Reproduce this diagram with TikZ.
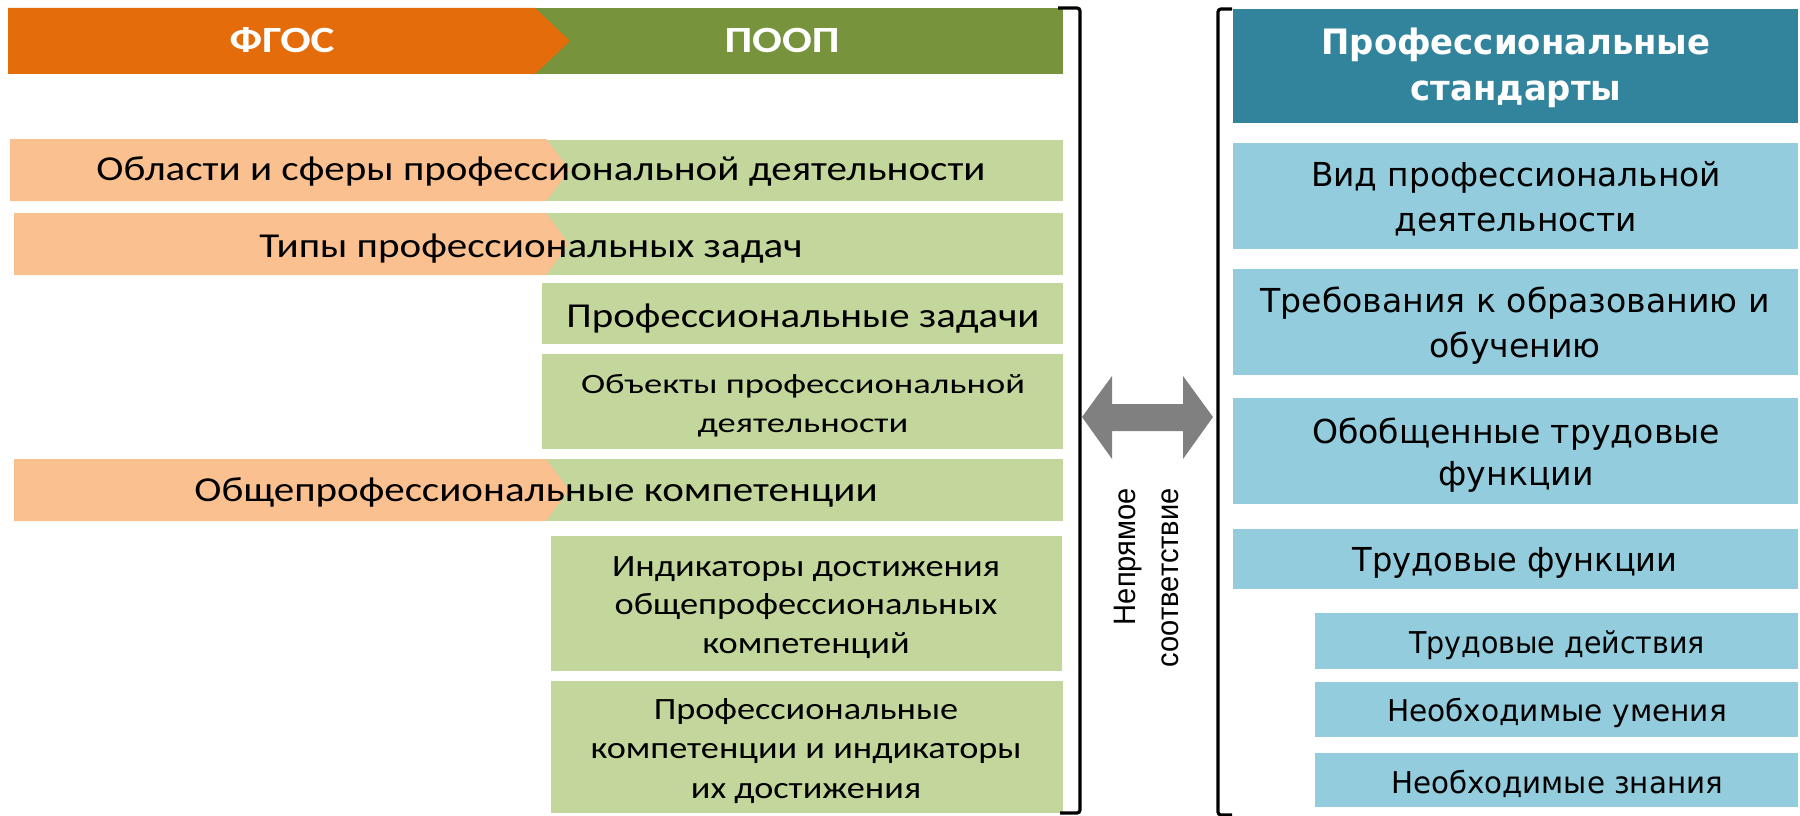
\documentclass[tikz,border=0pt]{standalone}
\usepackage{fontspec}
\setmainfont{Carlito}
\newfontfamily\dvs{DejaVu Sans}
\newfontfamily\lsans{Liberation Sans}
\usepackage{graphicx}
\usetikzlibrary{fit}
\definecolor{hdrorange}{HTML}{E46C0A}
\definecolor{hdrgreen}{HTML}{77933C}
\definecolor{lorange}{HTML}{FAC090}
\definecolor{lgreen}{HTML}{C3D69B}
\definecolor{hdrteal}{HTML}{31849B}
\definecolor{lblue}{HTML}{93CDDD}
\definecolor{arrowgray}{HTML}{808080}
\newcommand\fitw[4]{\resizebox{#1pt}{\height}{#2\begin{tabular}[t]{@{}#3@{}}#4\end{tabular}}}
\begin{document}
\begin{tikzpicture}[x=1pt,y=-1pt,
  box/.style={inner sep=0pt, outer sep=0pt, draw=none},
  gbox/.style={box, fill=lgreen},
  bbox/.style={box, fill=lblue},
  lbl/.style={inner sep=0pt, anchor=base},
  brk/.style={line width=3.2pt, rounded corners=3pt}]
\fill[white] (0,0) rectangle (1800,816);
\useasboundingbox (0,0) rectangle (1800,816);

% ---- left headers
\node[box, fill=hdrgreen, fit={(535,8) (1063,74)}] (pooph) {};
\fill[hdrorange] (8,8) -- (535,8) -- (570,41) -- (535,74) -- (8,74) -- cycle;
\node[lbl, text=white] (fgos) at (282,53) {\fitw{105}{\fontsize{37}{44}\selectfont\bfseries}{c}{ФГОС}};
\node[lbl, text=white] (poop) at (782,53) {\fitw{115}{\fontsize{37}{44}\selectfont\bfseries}{c}{ПООП}};

% ---- left rows
\node[gbox, fit={(539,140) (1063,201)}] (r1g) {};
\fill[lorange] (10,139) -- (546,139) -- (570,170) -- (546,201) -- (10,201) -- cycle;
\node[lbl] (r1t) at (541,180) {\fitw{889}{\fontsize{35}{42}\selectfont}{c}{Области и сферы профессиональной деятельности}};

\node[gbox, fit={(541,213) (1063,275)}] (r2g) {};
\fill[lorange] (14,213) -- (546,213) -- (569,244) -- (546,275) -- (14,275) -- cycle;
\node[lbl] (r2t) at (531,257) {\fitw{543}{\fontsize{35}{42}\selectfont}{c}{Типы профессиональных задач}};

\node[gbox, fit={(542,283) (1063,344)}] (r3g) {};
\node[lbl] (r3t) at (803,327) {\fitw{473}{\fontsize{35}{42}\selectfont}{c}{Профессиональные задачи}};

\node[gbox, fit={(542,354) (1063,449)}] (r4g) {};
\node[lbl] (r4t) at (803,393) {\fitw{444}{\fontsize{28}{39}\selectfont}{c}{Объекты профессиональной\\деятельности}};

\node[gbox, fit={(542,459) (1063,521)}] (r5g) {};
\fill[lorange] (14,459) -- (546,459) -- (569,490) -- (546,521) -- (14,521) -- cycle;
\node[lbl] (r5t) at (536,501) {\fitw{683}{\fontsize{35}{42}\selectfont}{c}{Общепрофессиональные компетенции}};

\node[gbox, fit={(551,536) (1062,671)}] (r6g) {};
\node[lbl] (r6t) at (806,576) {\fitw{388}{\fontsize{31}{38.5}\selectfont}{c}{Индикаторы достижения\\общепрофессиональных\\компетенций}};

\node[gbox, fit={(551,681) (1063,813)}] (r7g) {};
\node[lbl] (r7t) at (806,719) {\fitw{431}{\fontsize{31}{39.5}\selectfont}{c}{Профессиональные\\компетенции и индикаторы\\их достижения}};

% ---- brackets
\draw[brk] (1058,8) -- (1080,8) -- (1080,813) -- (1060,813);
\draw[brk] (1232,9) -- (1218,9) -- (1218,815) -- (1232,815);

% ---- double arrow
\fill[arrowgray] (1082,417) -- (1112,376) -- (1112,404) -- (1183,404) -- (1183,376) -- (1213,417)
  -- (1183,459) -- (1183,431) -- (1112,431) -- (1112,459) -- cycle;
\node[inner sep=0pt, rotate=90, anchor=base east] (vtxt) at (1135,488)
  {\fitw{179}{\lsans\fontsize{31}{43}\selectfont}{r}{Непрямое\\соответствие}};

% ---- right column
\node[box, fill=hdrteal, fit={(1233,9) (1798,123)}] (psh) {};
\node[lbl, text=white] (pst) at (1516,55) {\fitw{389}{\dvs\bfseries\fontsize{35}{46}\selectfont}{c}{Профессиональные\\стандарты}};

\node[bbox, fit={(1233,143) (1798,249)}] (b1) {};
\node[lbl] (b1t) at (1516,186) {\fitw{410}{\dvs\fontsize{33}{45}\selectfont}{c}{Вид профессиональной\\деятельности}};

\node[bbox, fit={(1233,269) (1798,375)}] (b2) {};
\node[lbl] (b2t) at (1515,312) {\fitw{509}{\dvs\fontsize{33}{45}\selectfont}{c}{Требования к образованию и\\обучению}};

\node[bbox, fit={(1233,398) (1798,504)}] (b3) {};
\node[lbl] (b3t) at (1516,443) {\fitw{408}{\dvs\fontsize{33}{42.5}\selectfont}{c}{Обобщенные трудовые\\функции}};

\node[bbox, fit={(1233,529) (1798,589)}] (b4) {};
\node[lbl] (b4t) at (1515,571) {\fitw{325}{\dvs\fontsize{33}{42}\selectfont}{c}{Трудовые функции}};

\node[bbox, fit={(1315,613) (1798,669)}] (b5) {};
\node[lbl] (b5t) at (1557,653) {\fitw{296}{\dvs\fontsize{30}{38}\selectfont}{c}{Трудовые действия}};

\node[bbox, fit={(1315,682) (1798,737)}] (b6) {};
\node[lbl] (b6t) at (1557,721) {\fitw{340}{\dvs\fontsize{30}{38}\selectfont}{c}{Необходимые умения}};

\node[bbox, fit={(1315,753) (1798,807)}] (b7) {};
\node[lbl] (b7t) at (1557,793) {\fitw{332}{\dvs\fontsize{30}{38}\selectfont}{c}{Необходимые знания}};
\end{tikzpicture}
\end{document}
